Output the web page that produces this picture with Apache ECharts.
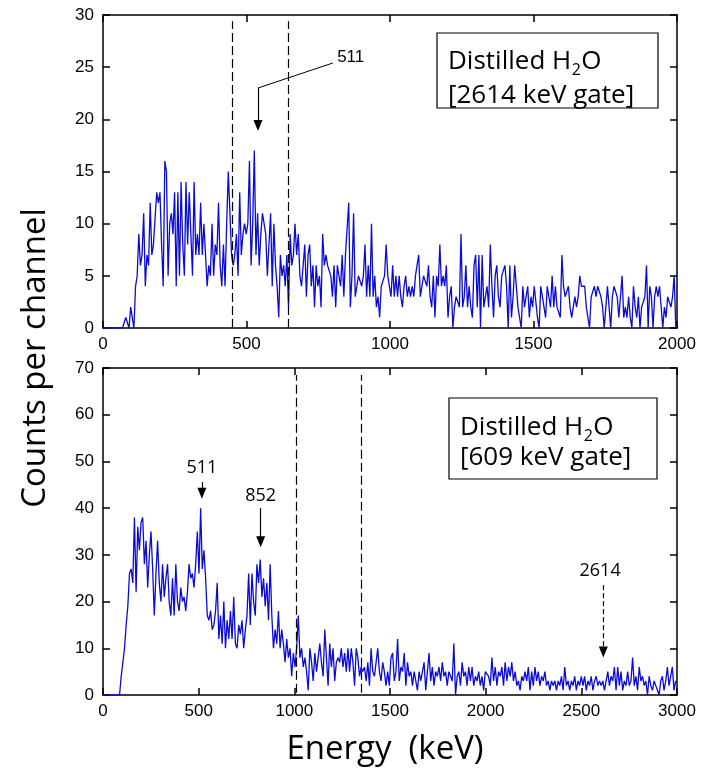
<!DOCTYPE html>
<html>
<head>
<meta charset="utf-8">
<script src="https://cdn.jsdelivr.net/npm/echarts@6/dist/echarts.min.js"></script>
<style>
  html, body { margin: 0; padding: 0; background: #fff; }
  #chart { width: 703px; height: 776px; }
</style>
</head>
<body>
<div id="chart"></div>
<script>
// ---- data (counts per channel) ----
const TOP_STEP = 5.67;   // keV per channel, upper spectrum
const BOT_STEP = 8.65;   // keV per channel, lower spectrum

const topCounts = [
  0,0,0,0,0,0,0,0,0,0,0,0,0,0,1,1,0,2,2,0,4,5,
  9,6,7,11,4,7,6,12,7,8, 8,13,12,13,8,4,16,15,5,10, 11,9,13,4,13,5,14,8,5,14,
  8,13,9,5,14,7,9,7,12,7, 10,7,4,6,5,10,5,8,7,12, 6,4,8,4,10,15,11,7,6,7,
  9,5,13,7,9,10,9,10,16,6, 10,17,7,11,6,9,11,10,9,5, 8,11,4,10,6,4,1,7,5,6, 4,7,2,
  9,6,7,10,7,9,5,4,6,8, 3,7,8,4,6,2,6,4,5,2, 9,6,7,6,6,5,3,6,2,6,
  5,4,7,3,7,7,12,2,5,11, 3,4,5,5,4,5,8,3,6,3, 10,3,5,2,3,1,4,4,5,8,
  5,4,3,6,3,5,3,5,3,2, 4,5,3,4,3,4,3,5,5,7, 3,4,5,5,4,6,3,2,5,1,
  5,4,8,4,5,4,6,1,3,4, 0,2,3,3,2,9,2,3,6,2, 4,2,1,
  6,7,2,7,0,7,2,3,4,2, 8,4,1,5,6,3,2,5,5,6, 4,0,6,1,3,6,6,2,1,0,
  4,2,2,4,1,3,2,4,4,1, 0,4,3,3,1,4,4,2,5,2, 4,2,2,1,7,4,3,3,4,2,
  1,1,3,2,3,5,4,4,4,2, 1,0,3,3,4,3,4,4,3,2, 0,2,4,2,0,3,4,4,3,1,
  3,5,1,2,1,3,1,0,4,2, 1,3,0,2,2,3,6,0,4,3, 0,3,4,3,4,2,0,2,1,3, 3,2,3,5,0
];

const botCounts = [
  0,0,0,0,0,0,0,0,0,0,
  0,4,7,10,15,19,26,27,24,38,22,36,31,37,38,28,33,
  23,30,35,27,17,26,33,24,20,28, 21,25,28,20,17,25,17,28,20,18,
  23,20,21,18,22,28,25,26,23,28, 35,26,40,27,31,25,17,16,18,14,
  15,18,24,12,17,11,20,10,16,12, 18,12,21,11,10,15,13,16,10,14,
  17,26,15,26,20,17,28,24,29,21, 25,19,24,16,28,17,10,14,11,18,
  10,14,11,7,12,8,10,4,9,6, 10,17,
  8,10,6,8,5,1,10,7,3,9, 5,8,11,7,4,14,8,2,11,6, 10,3,7,8,7,10,6,9,5,10,
  5,10,7,2,10,8,4,6,5,6, 3,7,2,10,5,4,7,10,5,3, 7,5,2,5,2,8,9,3,5,12,
  3,6,5,9,2,7,4,5,2,5, 5,1,5,3,5,7,1,5,9,3, 6,2,5,4,6,3,7,4,5,2,
  5,4,3,11,0,4,5,2,7,4, 5,2,6,3,6,2,4,3,5,2, 4,1,5,5,
  4,2,8,3,6,2,5,4,6,2, 7,3,6,4,7,3,5,2,3,1, 4,3,5,3,6,1,5,2,6,3,
  5,2,4,3,5,2,3,1,3,2, 3,1,3,2,4,1,6,2,3,1, 3,2,4,1,3,2,4,2,4,1,
  3,2,4,1,3,4,2,3,2,3, 1,3,5,2,4,3,6,1,6,2, 5,1,3,2,5,2,3,8,2,4,
  1,6,3,4,2,3,0,4,2,1, 3,2,1,0,3,4,1,3,6,2, 4,6,1,3
];

const topGateLines = [452, 646];    // keV, dashed
const botGateLines = [1010, 1349];  // keV, dashed
const topXTicks = [0, 2000, 500];   // min, max, interval
const topYTicks = [0, 30, 5];
const botXTicks = [0, 3000, 500];
const botYTicks = [0, 70, 10];

const topData = topCounts.map((c, i) => [i * TOP_STEP, c]);
const botData = botCounts.map((c, i) => [i * BOT_STEP, c]);

// ---- styles ----
const BLUE = '#0b0bd6';
const TICK_FONT = '"Liberation Sans Narrow", "Arial Narrow", "Liberation Sans", sans-serif';
const TEXT_FONT = '"Open Sans", sans-serif';

function axisBase(grid, t) {
  return {
    gridIndex: grid, type: 'value', min: t[0], max: t[1], interval: t[2],
    axisLine: { show: true, onZero: false, lineStyle: { color: '#000', width: 1.5 } },
    axisTick: { show: true, inside: true, length: 7, lineStyle: { color: '#000', width: 1.5 } },
    splitLine: { show: false }
  };
}
const tickLabel = (m) => ({ color: '#000', fontSize: 17, fontFamily: TICK_FONT, margin: m,
  formatter: v => String(v) });

function xAxisPair(grid, t) {
  return [
    Object.assign(axisBase(grid, t), { position: 'bottom', axisLabel: tickLabel(8) }),
    Object.assign(axisBase(grid, t), { position: 'top', axisLabel: { show: false } })
  ];
}
function yAxisPair(grid, t) {
  return [
    Object.assign(axisBase(grid, t), { position: 'left', axisLabel: tickLabel(9) }),
    Object.assign(axisBase(grid, t), { position: 'right', axisLabel: { show: false } })
  ];
}

function dashed(x, y0, y1) {
  return [
    { coord: [x, y0], symbol: 'none' },
    { coord: [x, y1], symbol: 'none', lineStyle: { type: [9, 4], color: '#000', width: 1.2 } }
  ];
}
function arrow(x0, y0, x1, y1, isDashed) {
  return [
    { coord: [x0, y0], symbol: 'none' },
    { coord: [x1, y1], symbol: 'triangle', symbolSize: [9, 11],
      lineStyle: { type: isDashed ? [5, 3] : 'solid', color: '#000', width: 1.2 } }
  ];
}
function label(x, y, txt, size, font) {
  return { coord: [x, y], symbol: 'circle', symbolSize: 0,
    label: { show: true, position: 'inside', formatter: txt, color: '#000',
      fontSize: size, fontFamily: font } };
}

// "Distilled H2O" with a lowered, smaller 2 (three pieces placed by measured width)
const ctx = document.createElement('canvas').getContext('2d');
function textW(s, font) { ctx.font = font; return ctx.measureText(s).width; }
function boxTitle(x, y) {
  const big = '26px ' + TEXT_FONT, small = '16px ' + TEXT_FONT;
  const w1 = textW('Distilled H', big), w2 = textW('2', small);
  const t = (s, f, dx, dy) => ({ type: 'text', x: x + dx, y: y + dy, z: 11,
    style: { text: s, fill: '#000', font: f, textVerticalAlign: 'middle' } });
  return [t('Distilled H', big, 0, 0), t('2', small, w1 + 0.5, 8), t('O', big, w1 + w2 + 1, 0)];
}

const option = {
  animation: false,
  backgroundColor: '#fff',
  grid: [
    { left: 103, right: 26, top: 15, height: 313 },
    { left: 103, right: 26, top: 368, height: 327 }
  ],
  xAxis: [...xAxisPair(0, topXTicks), ...xAxisPair(1, botXTicks)],
  yAxis: [...yAxisPair(0, topYTicks), ...yAxisPair(1, botYTicks)],
  series: [
    {
      type: 'line', xAxisIndex: 0, yAxisIndex: 0, data: topData,
      showSymbol: false, lineStyle: { color: BLUE, width: 1.3 }, z: 3,
      markLine: {
        silent: true, animation: false, label: { show: false },
        lineStyle: { color: '#000', width: 1 },
        data: [
          ...topGateLines.map(x => dashed(x, 0, 29.4)),
          [{ coord: [801, 25.4], symbol: 'none' }, { coord: [540, 23.0], symbol: 'none',
            lineStyle: { type: 'solid', color: '#000', width: 1 } }],
          arrow(540, 23.0, 540, 19.4, false)
        ]
      },
      markPoint: { silent: true, animation: false,
        data: [label(863, 25.9, '511', 17, TICK_FONT)] }
    },
    {
      type: 'line', xAxisIndex: 2, yAxisIndex: 2, data: botData,
      showSymbol: false, lineStyle: { color: BLUE, width: 1.3 }, z: 3,
      markLine: {
        silent: true, animation: false, label: { show: false },
        lineStyle: { color: '#000', width: 1 },
        data: [
          ...botGateLines.map(x => dashed(x, 0.5, 68.5)),
          arrow(517, 45.6, 517, 43.2, false),
          arrow(824, 40.0, 824, 32.8, false),
          arrow(2615, 23.5, 2615, 9.2, true)
        ]
      },
      markPoint: { silent: true, animation: false,
        data: [
          label(517, 48.6, '511', 18, TEXT_FONT),
          label(824, 42.6, '852', 18, TEXT_FONT),
          label(2598, 26.5, '2614', 18, TEXT_FONT)
        ] }
    }
  ],
  graphic: [
    { type: 'rect', shape: { x: 437, y: 33, width: 221, height: 75 },
      style: { fill: '#fff', stroke: '#000', lineWidth: 1.2 }, z: 10 },
    ...boxTitle(448, 62),
    { type: 'text', x: 448, y: 96, z: 11,
      style: { text: '[2614 keV gate]', fill: '#000', font: '26px ' + TEXT_FONT,
        textVerticalAlign: 'middle' } },
    { type: 'rect', shape: { x: 449, y: 398, width: 208, height: 81 },
      style: { fill: '#fff', stroke: '#000', lineWidth: 1.2 }, z: 10 },
    ...boxTitle(460, 428),
    { type: 'text', x: 460, y: 458, z: 11,
      style: { text: '[609 keV gate]', fill: '#000', font: '26px ' + TEXT_FONT,
        textVerticalAlign: 'middle' } },
    { type: 'text', x: 36, y: 358, rotation: Math.PI / 2, z: 11,
      style: { text: 'Counts per channel', fill: '#000', font: '33px ' + TEXT_FONT,
        textAlign: 'center', textVerticalAlign: 'middle' } },
    { type: 'text', x: 385, y: 750, z: 11,
      style: { text: 'Energy  (keV)', fill: '#000', font: '33px ' + TEXT_FONT,
        textAlign: 'center', textVerticalAlign: 'middle' } }
  ]
};

const chart = echarts.init(document.getElementById('chart'), null, { renderer: 'canvas' });
chart.setOption(option);
</script>
</body>
</html>
